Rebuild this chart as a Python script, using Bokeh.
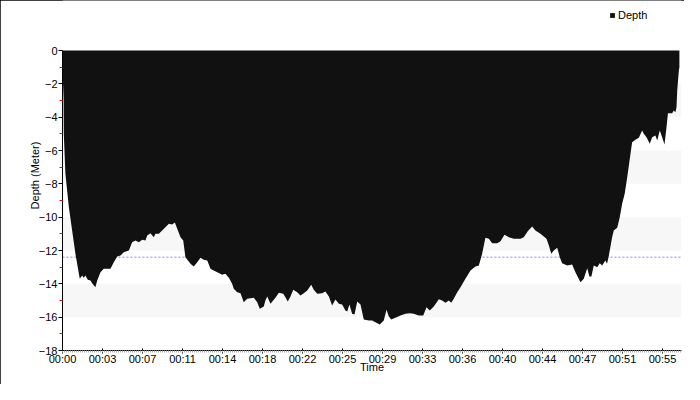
from bokeh.plotting import figure
from bokeh.models import FixedTicker, Legend, LegendItem, Span
from bokeh.embed import file_html
from bokeh.resources import INLINE

# ---- data -------------------------------------------------------------
TIME_S = [0, 3, 6, 7, 16, 35, 53, 71, 95, 108, 117, 126, 139, 154, 163, 181, 191,
          209, 227, 264, 282, 301, 319, 337, 365, 383, 401, 420, 438, 456, 466, 484,
          502, 511, 530, 548, 566, 585, 603, 618, 631, 649, 664, 676, 704, 722, 741,
          759, 777, 796, 814, 823, 851, 878, 896, 915, 933, 942, 961, 979, 997, 1016,
          1052, 1071, 1085, 1107, 1116, 1126, 1144, 1171, 1190, 1214, 1226, 1239, 1254,
          1269, 1291, 1309, 1327, 1346, 1368, 1382, 1401, 1428, 1446, 1465, 1483, 1501,
          1520, 1538, 1556, 1566, 1578, 1593, 1606, 1621, 1639, 1657, 1685, 1703, 1721,
          1745, 1767, 1782, 1795, 1808, 1831, 1859, 1886, 1910, 1932, 1960, 1984, 2002,
          2020, 2042, 2070, 2088, 2106, 2125, 2138, 2152, 2171, 2189, 2216, 2244, 2271,
          2290, 2308, 2326, 2345, 2363, 2391, 2409, 2431, 2455, 2482, 2519, 2537, 2559,
          2583, 2601, 2629, 2662, 2675, 2688, 2702, 2721, 2735, 2748, 2776, 2803, 2821,
          2849, 2867, 2886, 2898, 2909, 2922, 2941, 2955, 2968, 2986, 2995, 3005, 3023,
          3032, 3051, 3065, 3078, 3092, 3106, 3124, 3133, 3151, 3170, 3188, 3197, 3212,
          3230, 3243, 3261, 3271, 3285, 3298, 3311, 3322, 3330, 3353, 3362, 3371, 3377,
          3381, 3390, 3393]
DEPTH_M = [-1.0, -2.0, -2.8, -5.0, -7.4, -9.4, -10.8, -12.2, -13.7, -13.5, -13.64,
           -13.5, -13.76, -13.8, -13.96, -14.2, -13.8, -13.3, -13.1, -13.1, -12.7,
           -12.36, -12.3, -12.1, -12.0, -11.5, -11.4, -11.5, -11.36, -11.4, -11.1,
           -10.96, -11.2, -11.0, -11.0, -10.8, -10.6, -10.4, -10.44, -10.32, -10.7,
           -11.2, -11.4, -12.4, -12.8, -12.96, -12.7, -12.44, -12.56, -12.6, -13.1,
           -13.16, -13.3, -13.46, -13.4, -13.64, -14.0, -14.3, -14.5, -14.56, -15.1,
           -14.9, -14.84, -15.1, -15.5, -15.36, -15.0, -14.76, -15.2, -14.84, -14.54,
           -14.6, -14.8, -15.06, -14.76, -14.36, -14.5, -14.7, -14.56, -14.4, -14.06,
           -14.36, -14.6, -14.56, -14.46, -14.76, -15.3, -14.94, -15.2, -15.24, -15.6,
           -15.66, -15.24, -15.8, -15.84, -15.06, -15.24, -16.14, -16.2, -16.2, -16.3,
           -16.44, -16.2, -15.56, -15.96, -16.14, -16.04, -15.9, -15.8, -15.76, -15.8,
           -15.9, -15.9, -15.4, -15.6, -15.36, -14.92, -15.0, -15.14, -15.0, -15.14,
           -14.9, -14.5, -14.2, -13.7, -13.2, -12.96, -12.9, -12.2, -11.24, -11.3,
           -11.56, -11.56, -11.44, -11.06, -11.2, -11.3, -11.3, -11.2, -10.84, -10.56,
           -10.8, -11.0, -11.3, -11.7, -12.2, -12.0, -11.84, -12.4, -12.76, -12.9,
           -12.84, -13.3, -13.9, -13.7, -13.06, -13.56, -13.56, -12.9, -13.0, -12.76,
           -12.9, -12.6, -12.8, -12.3, -11.2, -10.8, -10.64, -10.0, -9.2, -8.6, -7.6,
           -6.2, -5.5, -5.36, -5.24, -4.8, -5.0, -5.2, -5.6, -5.2, -5.1, -5.4, -4.8,
           -5.2, -5.64, -4.6, -3.76, -3.76, -3.6, -3.7, -3.4, -2.4, -1.2, -1.0]

TICK_SECONDS = [0, 220, 440, 660, 880, 1100, 1320, 1540, 1760, 1980, 2200, 2420,
                2640, 2860, 3080, 3300]
TICK_LABELS = ["00:00", "00:03", "00:07", "00:11", "00:14", "00:18", "00:22", "00:25",
               "00:29", "00:33", "00:36", "00:40", "00:44", "00:47", "00:51", "00:55"]
X_END = 3404.5

Y_TICKS = [0, -2, -4, -6, -8, -10, -12, -14, -16, -18]
Y_MINOR = [-1, -3, -5, -7, -9, -11, -13, -15, -17]
Y_MIN, Y_MAX = -18, 0
BAND_TOPS = [-2, -6, -10, -14]
BAND_BOTTOMS = [-4, -8, -12, -16]
MEAN_DEPTH = -12.4

FONT = "Liberation Sans"

# ---- figure -----------------------------------------------------------
# the frame reaches to the top edge so that the legend (drawn inside the
# frame) can sit in the header strip; the axis itself is bounded to 0..-18
p = figure(width=684, height=384, output_backend="svg", toolbar_location=None,
           x_range=(0, X_END), y_range=(Y_MIN, 3.0),
           min_border_left=62, min_border_right=3, min_border_top=0,
           min_border_bottom=34)
p.background_fill_color = "white"
p.border_fill_color = "white"
p.outline_line_color = None
p.xgrid.grid_line_color = None
p.ygrid.grid_line_color = None
p.styles = {"outline": "1px solid black", "outline-offset": "-1px"}

# alternating bands
p.quad(left=0, right=X_END, top=BAND_TOPS, bottom=BAND_BOTTOMS,
       fill_color="#f7f7f7", line_color=None)

# mean depth line (under the area)
p.add_layout(Span(location=MEAN_DEPTH, dimension="width", line_color="#8080ff",
                  line_dash="2 2", line_width=1, level="underlay"))

area = p.varea(x=TIME_S, y1=[0] * len(TIME_S), y2=DEPTH_M,
               fill_color="#111111", fill_alpha=1.0)

# axes
xa = p.xaxis[0]
xa.ticker = FixedTicker(ticks=TICK_SECONDS,
                        minor_ticks=[i * 11 for i in range(int(X_END // 11) + 1)])
xa.major_label_overrides = {t: l for t, l in zip(TICK_SECONDS, TICK_LABELS)}
xa.axis_label = "Time"
xa.major_tick_in = 2
xa.major_tick_out = 3
xa.minor_tick_in = 0
xa.minor_tick_out = 2
xa.minor_tick_line_color = "#b0b0b0"
xa.major_label_standoff = -1
xa.axis_label_standoff = -7

ya = p.yaxis[0]
ya.bounds = (Y_MIN, Y_MAX)
ya.ticker = FixedTicker(ticks=Y_TICKS, minor_ticks=Y_MINOR)
ya.axis_label = "Depth (Meter)"
ya.major_tick_in = 0
ya.major_tick_out = 4
ya.minor_tick_in = 0
ya.minor_tick_out = 3
ya.minor_tick_line_color = "red"
ya.major_label_standoff = 1
ya.axis_label_standoff = -5

for ax in (xa, ya):
    ax.axis_line_color = "black"
    ax.major_tick_line_color = "black"
    ax.major_label_text_font = FONT
    ax.major_label_text_font_size = "11px"
    ax.major_label_text_color = "black"
    ax.axis_label_text_font = FONT
    ax.axis_label_text_font_size = "11px"
    ax.axis_label_text_font_style = "normal"
    ax.axis_label_text_color = "black"

legend = Legend(items=[LegendItem(label="Depth", renderers=[area])],
                location=(547, 329), padding=0, margin=0, spacing=0,
                glyph_width=6, glyph_height=6, label_standoff=3,
                label_text_font=FONT, label_text_font_size="11px",
                label_text_color="black",
                label_height=12, background_fill_alpha=0, border_line_color=None)
p.add_layout(legend)

open("out.html", "w").write(file_html(p, INLINE))
